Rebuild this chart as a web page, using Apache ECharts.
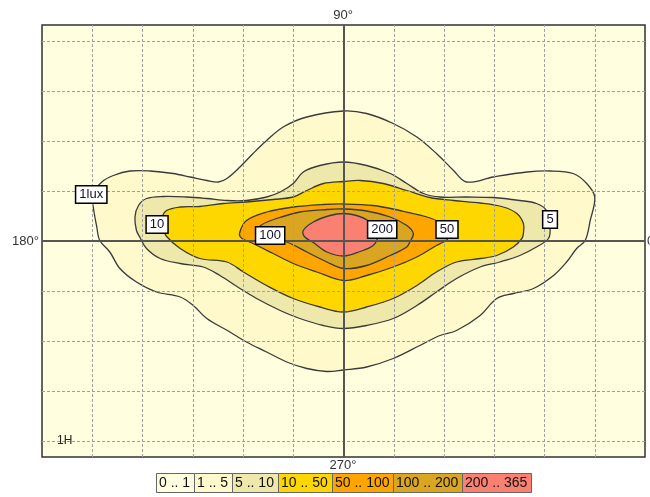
<!DOCTYPE html>
<html><head><meta charset="utf-8">
<script src="https://cdn.jsdelivr.net/npm/echarts@6/dist/echarts.min.js"></script>
<style>html,body{margin:0;padding:0;background:#fff}#c{width:650px;height:497px}</style>
</head><body><div id="c"></div>
<script>
// Isolux bands (legend)
const bandLabels = ['0 .. 1','1 .. 5','5 .. 10','10 .. 50','50 .. 100','100 .. 200','200 .. 365'];
const bandColors = ['#FFFFE0','#FFF9CC','#EEE8AA','#FFD700','#FFA500','#DAA520','#FA8072'];
const contourLevels = [1,5,10,50,100,200];

// Contours in grid units (1 grid cell = 1H)
const contour1 = [[0,2.60],[0.46,2.55],[0.99,2.35],[1.46,2.08],[1.85,1.75],[2.19,1.41],[2.45,1.18],[2.98,1.28],[3.65,1.38],[4.11,1.40],[4.57,1.35],[4.84,1.15],[5.00,0.88],[4.91,0.41],[4.81,0.01],[4.64,-0.15],[4.44,-0.42],[4.18,-0.69],[3.78,-0.95],[3.38,-1.05],[3.05,-1.15],[2.72,-1.49],[2.25,-1.79],[1.92,-1.89],[1.52,-2.09],[0.99,-2.35],[0.46,-2.52],[0,-2.58],[-0.33,-2.61],[-0.73,-2.55],[-1.13,-2.42],[-1.53,-2.22],[-1.93,-2.02],[-2.26,-1.82],[-2.72,-1.55],[-2.99,-1.29],[-3.25,-1.12],[-3.72,-1.02],[-4.12,-0.82],[-4.45,-0.55],[-4.65,-0.22],[-4.85,0.01],[-4.91,0.28],[-4.98,0.68],[-5.00,0.93],[-4.81,1.18],[-4.58,1.31],[-4.25,1.40],[-3.85,1.40],[-3.39,1.35],[-3.05,1.28],[-2.72,1.21],[-2.49,1.18],[-2.32,1.25],[-2.06,1.48],[-1.80,1.75],[-1.53,2.01],[-1.20,2.28],[-0.73,2.48]];
const contour5 = [[0,1.58],[0.46,1.51],[0.93,1.35],[1.26,1.15],[1.59,0.95],[1.92,0.88],[2.45,0.88],[2.98,0.87],[3.51,0.81],[3.84,0.75],[4.04,0.61],[4.11,0.28],[4.08,0.05],[3.84,-0.12],[3.51,-0.29],[3.11,-0.42],[2.72,-0.52],[2.25,-0.75],[1.85,-1.02],[1.46,-1.29],[0.99,-1.55],[0.46,-1.69],[0,-1.75],[-0.40,-1.69],[-0.87,-1.55],[-1.26,-1.39],[-1.73,-1.15],[-2.06,-0.95],[-2.46,-0.69],[-2.79,-0.52],[-3.25,-0.45],[-3.65,-0.35],[-3.92,-0.15],[-4.05,0.07],[-4.12,0.21],[-4.15,0.48],[-4.08,0.71],[-3.92,0.85],[-3.59,0.89],[-3.12,0.88],[-2.72,0.85],[-2.32,0.81],[-1.93,0.81],[-1.53,0.88],[-1.26,0.98],[-1.00,1.15],[-0.80,1.38],[-0.47,1.51]];
const contour10 = [[0,1.19],[0.33,1.21],[0.79,1.15],[1.26,1.01],[1.72,0.87],[2.19,0.81],[2.72,0.76],[3.18,0.68],[3.45,0.55],[3.58,0.35],[3.58,0.15],[3.55,0.05],[3.38,-0.12],[3.05,-0.29],[2.72,-0.35],[2.25,-0.42],[1.85,-0.62],[1.46,-0.89],[0.99,-1.15],[0.46,-1.32],[0,-1.42],[-0.47,-1.32],[-1.00,-1.15],[-1.53,-0.89],[-1.99,-0.62],[-2.32,-0.42],[-2.86,-0.35],[-3.25,-0.15],[-3.52,0.09],[-3.62,0.29],[-3.62,0.45],[-3.52,0.61],[-3.25,0.68],[-2.86,0.69],[-2.39,0.75],[-1.93,0.78],[-1.40,0.83],[-1.00,0.88],[-0.73,1.01],[-0.40,1.15]];
const contour50 = [[0,0.74],[0.59,0.71],[1.12,0.61],[1.66,0.48],[1.92,0.37],[2.08,0.21],[2.08,0.05],[1.99,-0.02],[1.85,-0.09],[1.46,-0.32],[0.99,-0.52],[0.46,-0.69],[0,-0.79],[-0.53,-0.62],[-1.00,-0.45],[-1.40,-0.25],[-1.80,-0.05],[-2.02,0.05],[-2.07,0.15],[-1.93,0.41],[-1.53,0.58],[-1.00,0.68],[-0.40,0.73]];
const contour100 = [[0,0.64],[0.46,0.60],[0.93,0.48],[1.26,0.31],[1.39,0.15],[1.32,-0.02],[1.26,-0.12],[0.93,-0.29],[0.46,-0.49],[0,-0.55],[-0.33,-0.42],[-0.73,-0.22],[-1.13,-0.02],[-1.55,0.11],[-1.73,0.21],[-1.62,0.33],[-1.33,0.45],[-0.87,0.58],[-0.33,0.63]];
const contour200 = [[0,0.55],[0.26,0.51],[0.49,0.41],[0.69,0.25],[0.69,0.09],[0.59,-0.09],[0.33,-0.21],[0,-0.30],[-0.33,-0.22],[-0.60,-0.03],[-0.77,0.08],[-0.80,0.21],[-0.60,0.38],[-0.27,0.51]];

// Contour labels
const contourLabelText = ['1lux','10','100','200','50','5'];
const contourLabelPos = [[-5.02,0.93],[-3.71,0.33],[-1.46,0.11],[0.77,0.23],[2.06,0.23],[4.11,0.43]];

// Axes / grid
const xGridValues = [-5,-4,-3,-2,-1,1,2,3,4,5];
const yGridValues = [-4,-3,-2,-1,1,2,3,4];
const directionLabels = ['90°','180°','0°','270°'];
const cornerLabel = '1H';

const contours = [contour1, contour5, contour10, contour50, contour100, contour200];

const chart = echarts.init(document.getElementById('c'), null, {renderer:'canvas'});

const FONT = '"Liberation Sans", Arial, sans-serif';

// legend layout via text measurement
const cv = document.createElement('canvas').getContext('2d');
cv.font = '14px ' + FONT;
const widths = bandLabels.map(t => Math.round(cv.measureText(t).width + 7));
const total = widths.reduce((a,b)=>a+b,0);
let lx = Math.round(343 - total/2);
const legendEls = [];
bandLabels.forEach((t,i)=>{
  legendEls.push({type:'rect', shape:{x:lx+0.5,y:473.5,width:widths[i],height:19}, style:{fill:bandColors[i], stroke:'#666', lineWidth:1}, z:100});
  legendEls.push({type:'text', x:lx+3, y:483.5, style:{text:t, font:'14px '+FONT, fill:'#111', textVerticalAlign:'middle', textAlign:'left'}, z:101});
  lx += widths[i];
});

const gridMarkData = [];
xGridValues.forEach(v=>gridMarkData.push({xAxis:v}));
yGridValues.forEach(v=>gridMarkData.push({yAxis:v}));

const option = {
  animation:false,
  backgroundColor:'#ffffff',
  grid:{left:42, top:25, right:5, bottom:40, show:true, backgroundColor:bandColors[0], borderColor:'#333', borderWidth:1.5},
  xAxis:{type:'value', min:-6, max:6, interval:1, axisLine:{show:false}, axisTick:{show:false}, axisLabel:{show:false}, splitLine:{show:false}},
  yAxis:{type:'value', min:-4.32, max:4.32, axisLine:{show:false}, axisTick:{show:false}, axisLabel:{show:false}, splitLine:{show:false}},
  series:[
    {
      type:'custom', z:2, clip:true,
      data: contourLevels.map((lv,i)=>[0,0,lv]),
      renderItem:(params, api)=>{
        const pts = contours[params.dataIndex].map(p=>api.coord(p));
        return {type:'polygon', shape:{points:pts, smooth:0.35}, style:{fill:bandColors[params.dataIndex+1], stroke:'#3a3a3a', lineWidth:1.3}};
      }
    },
    {
      type:'line', z:3, data:[], silent:true,
      markLine:{silent:true, symbol:['none','none'], label:{show:false}, animation:false,
        lineStyle:{color:'#a0a0a0', type:[3,2], width:1}, data:gridMarkData}
    },
    {
      type:'line', z:4, data:[], silent:true,
      markLine:{silent:true, symbol:['none','none'], label:{show:false}, animation:false,
        lineStyle:{color:'#555555', type:'solid', width:2}, data:[{xAxis:0},{yAxis:0}]}
    },
    {
      type:'scatter', z:10, symbolSize:0, silent:true,
      itemStyle:{opacity:1},
      data: contourLabelPos.map((p,i)=>({value:p, name:contourLabelText[i]})),
      label:{show:true, position:'inside', formatter:'{b}', fontSize:13, fontFamily:FONT, color:'#111133', opacity:1,
        backgroundColor:'#ffffff', borderColor:'#000', borderWidth:1.5, padding:[2,3,1,3]}
    }
  ],
  graphic:[
    {type:'text', x:343, y:15, style:{text:directionLabels[0], font:'13px '+FONT, fill:'#333', textAlign:'center', textVerticalAlign:'middle'}},
    {type:'text', x:39, y:241, style:{text:directionLabels[1], font:'13px '+FONT, fill:'#333', textAlign:'right', textVerticalAlign:'middle'}},
    {type:'text', x:647, y:241, style:{text:directionLabels[2], font:'13px '+FONT, fill:'#333', textAlign:'left', textVerticalAlign:'middle'}},
    {type:'text', x:343, y:465, style:{text:directionLabels[3], font:'13px '+FONT, fill:'#333', textAlign:'center', textVerticalAlign:'middle'}},
    {type:'text', x:57, y:441, z:50, style:{text:cornerLabel, font:'12px '+FONT, fill:'#222', textAlign:'left', textVerticalAlign:'middle'}},
    ...legendEls
  ]
};
chart.setOption(option);
</script>
</body></html>
